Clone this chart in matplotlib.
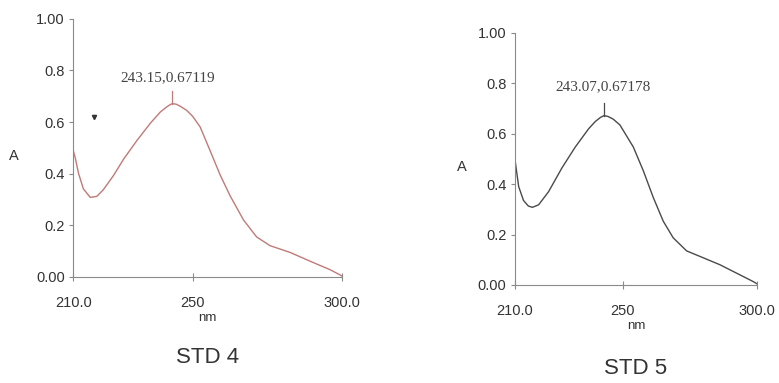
import matplotlib
matplotlib.use("Agg")
import matplotlib.pyplot as plt

# Wavelength (nm) / absorbance readings for two standards
std4_nm = [210.0, 210.7, 211.8, 213.4, 215.7, 217.9, 220.1, 223.5, 226.8, 231.3, 235.8, 239.1,
           241.0, 242.4, 243.15, 244.5, 246.0, 248.0, 250.0, 252.5, 255.8, 259.2, 262.5,
           267.0, 271.4, 275.9, 282.6, 289.3, 296.0, 299.3, 300.0]
std4_abs = [0.49, 0.46, 0.40, 0.341, 0.308, 0.312, 0.338, 0.393, 0.455, 0.528, 0.595, 0.638,
            0.656, 0.667, 0.67119, 0.669, 0.66, 0.645, 0.622, 0.581, 0.49, 0.395, 0.315,
            0.221, 0.155, 0.121, 0.095, 0.061, 0.028, 0.008, 0.003]

std5_nm = [210.0, 210.5, 211.4, 213.2, 215.0, 216.5, 218.8, 222.5, 227.5, 232.4, 237.4, 239.8,
           241.8, 243.07, 244.5, 246.5, 249.0, 254.0, 257.7, 261.4, 265.1, 268.8, 273.8,
           278.8, 286.2, 293.6, 298.6, 300.0]
std5_abs = [0.50, 0.46, 0.39, 0.335, 0.313, 0.308, 0.318, 0.37, 0.465, 0.547, 0.62, 0.648,
            0.665, 0.67178, 0.669, 0.658, 0.635, 0.547, 0.453, 0.347, 0.253, 0.187, 0.135,
            0.113, 0.08, 0.04, 0.013, 0.004]

# stray mark on the STD 4 trace
std4_dot = (217.0, 0.62)

panels = [
    dict(nm=std4_nm, a=std4_abs, peak=(243.15, 0.67119), label="243.15,0.67119",
         title="STD 4", color="#c07a78", rect=[0.094, 0.277, 0.345, 0.674],
         label_dx=-1.5, label_dy=0.075, title_y=-0.27),
    dict(nm=std5_nm, a=std5_abs, peak=(243.07, 0.67178), label="243.07,0.67178",
         title="STD 5", color="#4a4a4a", rect=[0.661, 0.256, 0.311, 0.658],
         label_dx=-0.5, label_dy=0.09, title_y=-0.29),
]

x_ticks = [210.0, 250.0, 300.0]
x_ticklabels = ["210.0", "250", "300.0"]
y_ticks = [0.0, 0.2, 0.4, 0.6, 0.8, 1.0]
y_ticklabels = ["0.00", "0.2", "0.4", "0.6", "0.8", "1.00"]

sans = ["Liberation Sans", "DejaVu Sans"]
serif = ["Liberation Serif", "DejaVu Serif"]

fig = plt.figure(figsize=(7.79, 3.83), dpi=100)
fig.patch.set_facecolor("white")

for i, p in enumerate(panels):
    ax = fig.add_axes(p["rect"])
    ax.plot(p["nm"], p["a"], color=p["color"], lw=1.0, solid_joinstyle="round")
    ax.set_xlim(210, 300)
    ax.set_ylim(0, 1.0)
    for s in ("top", "right"):
        ax.spines[s].set_visible(False)
    for s in ("left", "bottom"):
        ax.spines[s].set_color("#8a8a8a")
        ax.spines[s].set_linewidth(0.8)
    ax.set_xticks(x_ticks)
    ax.set_xticklabels(x_ticklabels, fontsize=10.5, family=sans, color="#333333")
    ax.set_yticks(y_ticks)
    ax.set_yticklabels(y_ticklabels, fontsize=10.5, family=sans, color="#333333")
    ax.tick_params(axis="x", direction="inout", length=6, width=0.8, color="#8a8a8a", pad=11)
    ax.tick_params(axis="y", direction="out", length=3, width=0.8, color="#8a8a8a", pad=3)
    ax.set_xlabel("nm", fontsize=9.5, family=sans, color="#333333", labelpad=1)
    ax.set_ylabel("A", fontsize=10.5, family=sans, color="#333333", rotation=0)
    ax.yaxis.set_label_coords(-0.22, 0.44)
    # peak marker and label
    px, py = p["peak"]
    ax.plot([px, px], [py, py + 0.05], color=p["color"], lw=0.9)
    ax.text(px + p["label_dx"], py + p["label_dy"], p["label"], ha="center", va="bottom",
            fontsize=11, family=serif, color="#444444")
    ax.text(0.5, p["title_y"], p["title"], transform=ax.transAxes, ha="center", va="top",
            fontsize=16, family=sans, color="#333333")
    if i == 0:
        ax.plot([std4_dot[0]], [std4_dot[1]], marker="v", ms=3, color="#333333", lw=0)

fig.savefig("out.png", dpi=100, facecolor="white")
